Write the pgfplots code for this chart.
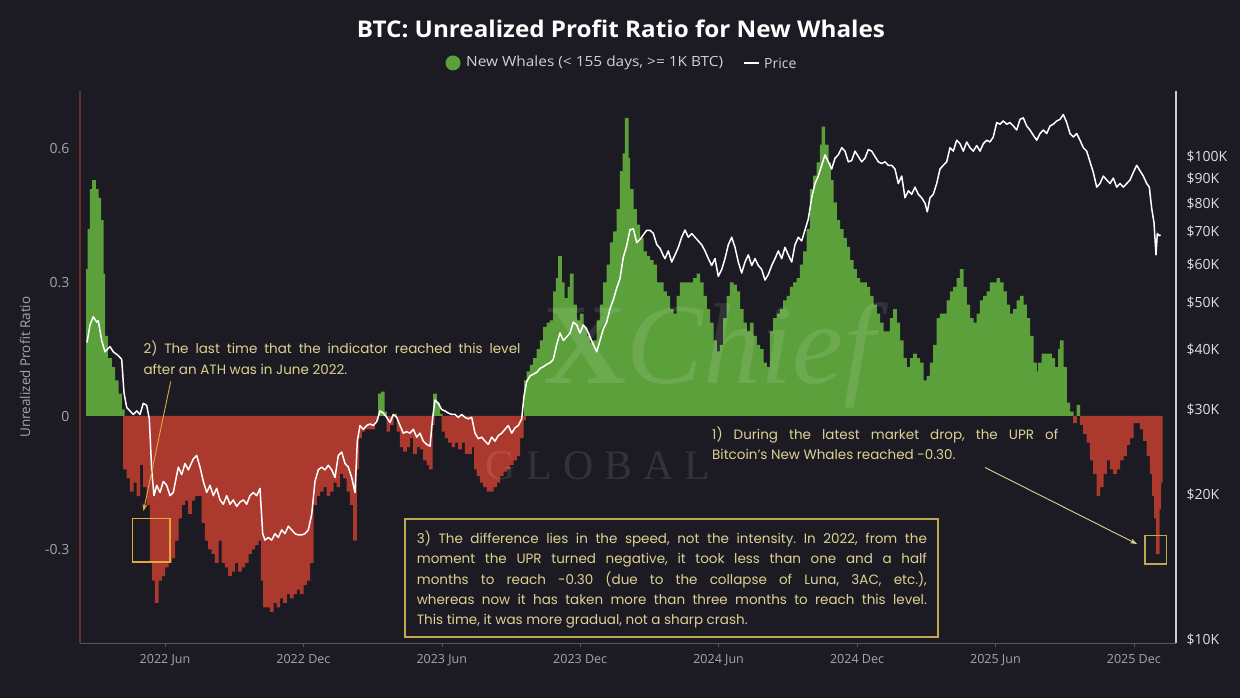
\documentclass[border=0pt]{standalone}
\usepackage{fontspec}
\setmainfont{Open Sans}
\newfontfamily\annfont{Poppins}
\newfontfamily\wmfont{Liberation Serif}
\usepackage{graphicx}
\usepackage{pgfplots}
\pgfplotsset{compat=1.18}
\usepackage{pgfplotstable}
\usetikzlibrary{arrows.meta}
\frenchspacing
\definecolor{bg}{RGB}{28,27,35}
\definecolor{upg}{RGB}{92,160,60}
\definecolor{upr}{RGB}{172,57,45}
\definecolor{spinered}{RGB}{112,42,42}
\definecolor{anntext}{RGB}{220,210,145}
\definecolor{boxgold}{RGB}{192,168,82}
\definecolor{boxorange}{RGB}{226,168,64}
\definecolor{ticklbl}{RGB}{165,165,172}
\definecolor{axgray}{RGB}{85,85,92}
\newcommand\jline[2]{\sbox0{#2}\ifdim\wd0>#1\relax\resizebox{#1}{\height}{#2}\else\makebox[#1][s]{#2}\fi}

\pgfplotstableread{
x v
88 0.33
89.3 0.42
91.7 0.51
94 0.53
96.7 0.51
99.3 0.49
101.7 0.44
103.3 0.32
106 0.18
110 0.13
113.3 0.11
116.7 0.08
120 0.05
122.7 0.015
125 -0.12
128.3 -0.14
131.7 -0.17
135 -0.15
138.3 -0.18
141.7 -0.11
145 -0.16
148.3 -0.20
151.7 -0.33
154 -0.37
156.7 -0.42
160 -0.37
163.3 -0.36
166.7 -0.34
170 -0.33
173.3 -0.32
176.7 -0.28
180 -0.23
183.3 -0.20
186.7 -0.19
190 -0.22
193.3 -0.19
196.7 -0.18
200 -0.18
203.3 -0.24
206.7 -0.28
210 -0.30
213.3 -0.31
216.7 -0.33
220 -0.28
223.3 -0.33
226.7 -0.34
230 -0.36
233.3 -0.35
236.7 -0.33
240 -0.35
243.3 -0.34
246.7 -0.33
250 -0.31
253.3 -0.30
256.7 -0.29
260 -0.28
262.7 -0.37
265 -0.43
268.3 -0.43
271.7 -0.44
275 -0.42
278.3 -0.43
281.7 -0.41
285 -0.42
288.3 -0.40
291.7 -0.41
295 -0.40
298.3 -0.39
301.7 -0.40
305 -0.38
308.3 -0.37
311.7 -0.33
315 -0.20
318.3 -0.18
321.7 -0.17
325 -0.16
328.3 -0.18
331.7 -0.17
335 -0.15
338.3 -0.16
341.7 -0.13
345 -0.14
348.3 -0.17
351.7 -0.20
355 -0.28
357.3 -0.12
360 -0.05
363.3 -0.035
366.7 -0.03
370 -0.03
373.3 -0.03
376.7 -0.01
380 0.05
382.7 0.055
385 0.01
388.3 -0.035
391.7 -0.02
395 0.005
398.3 -0.035
401.7 -0.07
405 -0.08
408.3 -0.07
411.7 -0.05
415 -0.085
418.3 -0.07
421.7 -0.075
425 -0.10
428.3 -0.11
430.7 -0.12
432.7 -0.02
435 0.05
438.3 0.03
440.7 0.005
443.3 -0.035
446.7 -0.05
450 -0.06
453.3 -0.07
456.7 -0.06
460 -0.075
463.3 -0.06
466.7 -0.085
470 -0.085
473.3 -0.07
476 -0.12
478.3 -0.135
481.7 -0.15
485 -0.16
488.3 -0.17
491.7 -0.17
495 -0.16
498.3 -0.15
501.7 -0.135
505 -0.125
508.3 -0.12
511.7 -0.11
515 -0.10
518.3 -0.09
521.7 -0.05
524 -0.01
526 0.08
528.3 0.10
531.7 0.115
535 0.13
538.3 0.15
541.7 0.17
545 0.20
548.3 0.21
551.7 0.215
555 0.28
557.7 0.31
560 0.36
562.7 0.30
566 0.265
569.3 0.29
571.7 0.32
575 0.25
578.3 0.215
581.7 0.23
585 0.20
588.3 0.18
591.7 0.165
595 0.17
598.3 0.215
601.7 0.25
605 0.30
608.3 0.34
611.7 0.39
615 0.415
618.3 0.465
621.7 0.55
624.3 0.59
626.7 0.67
628.3 0.58
631.7 0.51
635 0.465
638.3 0.43
641.7 0.40
645 0.37
648.3 0.36
651.7 0.35
655 0.34
658.3 0.30
661.7 0.30
665 0.28
668.3 0.27
671.7 0.24
675 0.23
678.3 0.27
681.7 0.30
685 0.30
688.3 0.30
691.7 0.30
695 0.31
698.3 0.32
701.7 0.30
705 0.27
708.3 0.24
711.7 0.21
715 0.17
718.3 0.145
721.7 0.16
725 0.22
728.3 0.27
731.7 0.30
735 0.295
738.3 0.28
741.7 0.24
745 0.21
748.3 0.19
751.7 0.21
755 0.18
758.3 0.16
761.7 0.15
765 0.12
768.3 0.11
771.7 0.19
775 0.22
778.3 0.23
781.7 0.24
785 0.26
788.3 0.27
791.7 0.29
795 0.30
798.3 0.31
801.7 0.34
805 0.37
808.3 0.42
811.7 0.51
815 0.54
818.3 0.57
821.7 0.61
823.3 0.65
826.7 0.61
829 0.57
831.7 0.53
835 0.48
838.3 0.44
841.7 0.42
845 0.40
848.3 0.38
851.7 0.35
855 0.33
858.3 0.31
861.7 0.30
865 0.30
868.3 0.29
871.7 0.27
875 0.25
878.3 0.23
881.7 0.21
885 0.19
888.3 0.19
891.7 0.22
895 0.24
898.3 0.21
901.7 0.17
905 0.13
908.3 0.11
911.7 0.13
915 0.14
918.3 0.13
921.7 0.12
925 0.08
926.7 0.04
928.3 0.09
931.7 0.12
935 0.16
938.3 0.22
941.7 0.23
945 0.23
948.3 0.26
951.7 0.28
955 0.29
958.3 0.31
961.7 0.33
965 0.29
968.3 0.25
971.7 0.22
975 0.21
978.3 0.23
981.7 0.26
985 0.27
988.3 0.28
991.7 0.30
995 0.30
998.3 0.31
1001.7 0.30
1005 0.28
1008.3 0.25
1011.7 0.23
1015 0.24
1018.3 0.26
1021.7 0.27
1025 0.25
1028.3 0.22
1031.7 0.18
1035 0.12
1036.7 0.10
1040 0.12
1043.3 0.14
1046.7 0.14
1050 0.14
1053.3 0.13
1056.7 0.11
1060 0.15
1061.7 0.17
1065 0.11
1068.3 0.03
1071.7 0.01
1075 -0.016
1078.3 0.025
1081.7 -0.02
1085 -0.04
1088.3 -0.06
1091.7 -0.10
1095 -0.13
1098.3 -0.18
1101.7 -0.16
1105 -0.13
1108.3 -0.10
1111.7 -0.12
1115 -0.13
1118.3 -0.12
1121.7 -0.10
1125 -0.09
1128.3 -0.065
1131.7 -0.05
1135 -0.016
1138.3 -0.016
1141.7 -0.03
1145 -0.056
1148.3 -0.09
1151.7 -0.13
1154 -0.18
1156 -0.23
1157.7 -0.31
1159.3 -0.21
1160.7 -0.15
}\uprtable

\pgfplotstableread{
x p
87 41.3
90 44.9
93.3 46.7
96.7 45.5
98.3 45.8
101.7 41.7
105 39.5
110 40.5
113.3 39.5
118.3 38.8
121.7 38.1
124 32.5
126.7 30.3
130 29.8
133.3 29.3
136.7 29.8
140 29.3
143.3 30.9
146.7 30.6
149.3 28.7
151.7 22.5
154 19.9
156.7 20.9
160 20.2
163.3 21.3
166.7 20.9
170 19.9
173.3 20.2
178.3 22.8
181.7 22.0
185 23.2
188.3 22.5
193.3 23.7
196.7 24.1
200 22.8
203.3 21.3
206.7 20.2
210 20.9
213.3 19.9
216.7 20.6
220 19.5
223.3 19.1
226.7 19.9
230 19.1
233.3 19.5
236.7 18.9
240 19.3
243.3 19.5
246.7 19.1
250 19.9
253.3 20.2
256.7 19.9
260 20.6
262.7 16.6
265 16.1
268.3 16.3
271.7 16.1
275 16.6
278.3 16.3
281.7 16.9
285 16.6
288.3 17.2
291.7 16.9
295 16.6
298.3 16.5
301.7 16.5
305 16.6
308.3 16.9
311.7 18.2
315 21.3
318.3 22.5
321.7 22.8
325 22.5
328.3 23.0
331.7 22.5
335 21.7
338.3 24.1
341.7 24.5
345 23.2
348.3 22.8
351.7 21.7
355 20.2
357.3 25.8
360 27.8
363.3 27.3
366.7 27.8
370 28.0
373.3 27.8
376.7 28.3
380 29.8
383.3 29.5
386.7 28.9
390 28.2
393.3 29.3
396.7 28.9
400 27.8
403.3 26.8
406.7 27.0
410 26.8
413.3 27.3
416.7 26.3
420 26.8
423.3 25.8
426.7 25.4
430 25.2
432.7 28.9
435 31.4
438.3 30.9
441.7 30.0
445 29.8
448.3 29.5
451.7 29.3
455 29.3
458.3 28.9
461.7 29.3
465 28.9
468.3 28.7
471.7 28.9
475 26.8
478.3 26.1
481.7 26.3
485 25.8
488.3 25.4
491.7 26.3
495 25.8
498.3 26.5
501.7 26.8
505 27.3
508.3 27.8
511.7 26.8
515 27.5
518.3 27.8
521.7 28.7
524 32.0
526.7 34.3
530 35.2
533.3 35.5
536.7 35.8
540 36.5
543.3 36.8
546.7 37.2
550 37.5
553.3 38.1
556.7 40.9
560 43.2
563.3 41.7
566.7 42.4
570 43.2
573.3 45.5
576.7 44.9
580 43.2
583.3 44.9
586.7 44.0
590 42.4
593.3 40.9
596.7 39.5
600 41.7
603.3 44.0
606.7 45.5
610 48.5
613.3 50.6
616.7 53.5
620 56.0
623.3 62.0
626.7 65.5
630 70.7
633.3 71.0
636.7 66.5
640 67.5
643.3 69.0
646.7 70.5
650 70.5
653.3 69.5
656.7 65.9
660 64.7
663.3 62.5
665 61.6
668.3 63.9
671.7 60.6
675 62.7
678.3 65.0
681.7 68.2
685 70.6
688.3 68.2
691.7 69.4
695 68.2
698.3 67.0
701.7 65.8
705 63.9
708.3 61.6
711.7 59.6
715 61.6
718.3 56.6
721.7 58.5
725 61.6
728.3 65.8
731.7 68.2
735 65.0
738.3 60.6
741.7 57.5
745 60.6
748.3 62.7
751.7 59.6
755 61.6
758.3 59.6
761.7 58.5
765 55.6
768.3 57.1
771.7 59.6
775 61.6
778.3 63.9
781.7 61.6
785 65.0
788.3 62.7
791.7 60.6
795 65.8
798.3 68.2
801.7 67.0
805 70.6
808.3 74.4
811.7 82.3
815 88.1
818.3 91.3
821.7 96.1
825 101
828.3 97.7
831.7 94.4
835 99.4
838.3 101
841.7 104.5
845 102.8
848.3 97.7
851.7 98.3
855 102.8
858.3 100.2
861.7 97.7
865 99.4
868.3 103.6
871.7 102.8
875 100.2
878.3 97.7
881.7 96.9
885 97.7
888.3 96.1
891.7 96.1
895 94.4
898.3 88.1
901.7 91.3
905 82.3
908.3 85.1
911.7 83.7
915 86.6
918.3 83.7
921.7 82.3
925 80.2
927.3 77.0
930 82.3
933.3 83.7
936.7 88.1
940 94.4
943.3 96.1
946.7 97.7
950 104.5
953.3 102.8
956.7 108.3
960 106.5
963.3 102.8
966.7 107.4
970 104.5
973.3 102.8
976.7 105.6
980 102.8
983.3 106.5
986.7 108.3
990 107.4
993.3 110.0
996.7 117.8
1000 116.9
1003.3 118.7
1006.7 116.9
1010 117.8
1013.3 115.9
1016.7 113.7
1020 119.6
1023.3 120.5
1026.7 115.9
1030 113.7
1033.3 110.9
1036.7 108.3
1040 111.8
1043.3 113.7
1046.7 111.8
1050 115.9
1053.3 116.9
1056.7 118.7
1060 119.6
1063.3 122.4
1066.7 117.8
1070 111.8
1073.3 110.0
1076.7 111.8
1080 108.3
1083.3 104.5
1086.7 102.8
1090 97.7
1093.3 92.9
1096.7 86.6
1100 88.1
1103.3 91.3
1106.7 89.6
1110 88.1
1113.3 90.4
1116.7 86.6
1120 88.1
1123.3 86.6
1126.7 88.1
1130 89.6
1133.3 92.9
1136.7 96.1
1140 93.6
1143.3 91.3
1146.7 88.1
1149.3 86.6
1151.7 78.2
1154 73.1
1156 62.7
1157.3 69.4
1159.3 68.7
1160.5 69.0
}\pricetable

\begin{document}
\begin{tikzpicture}[x=1pt,y=1pt]
\fill[bg] (0,0) rectangle (1240,698);

\begin{axis}[
  at={(80pt,55pt)}, anchor=south west, scale only axis,
  width=1096pt, height=553pt,
  xmin=80, xmax=1176, ymin=-0.5101, ymax=0.7326,
  axis line style={draw=none},
  xtick={165,303.4,441.8,580.2,718.6,857,995.4,1133.8},
  xticklabels={2022 Jun,2022 Dec,2023 Jun,2023 Dec,2024 Jun,2024 Dec,2025 Jun,2025 Dec},
  xtick pos=bottom, tick align=outside, major tick length=4pt,
  xtick style={draw=axgray, line width=0.6pt},
  ytick={-0.3,0,0.3,0.6}, yticklabels={-0.3,0,0.3,0.6},
  ytick pos=left, ytick style={draw=none},
  xticklabel style={font=\fontsize{12.5}{14}\selectfont, text=ticklbl, yshift=-4pt},
  yticklabel style={font=\fontsize{14}{16}\selectfont, text=ticklbl, xshift=-3pt},
]
\addplot[ybar, bar shift=0pt, bar width=3.6, fill=upg, draw=none,
  restrict y to domain=0:1] table[x=x,y=v] {\uprtable};
\addplot[ybar, bar shift=0pt, bar width=3.6, fill=upr, draw=none,
  restrict y to domain=-1:0] table[x=x,y=v] {\uprtable};
\end{axis}

% watermark (kept clear of the annotation texts)
\node[opacity=0.10, text=white, font=\wmfont\fontsize{115}{115}\selectfont] at (716,698-355) {\textbf{X}\textit{Chief}};
\node[opacity=0.10, text=white, font=\wmfont\fontsize{42}{42}\selectfont] at (598,698-466) {G\hspace{11pt}L\hspace{11pt}O\hspace{11pt}B\hspace{11pt}A\hspace{11pt}L};

\begin{axis}[
  at={(80pt,55pt)}, anchor=south west, scale only axis,
  width=1096pt, height=553pt,
  xmin=80, xmax=1176, ymode=log, ymin=9.858, ymax=137.6,
  axis line style={draw=none}, xtick=\empty,
  ytick={10,20,30,40,50,60,70,80,90,100},
  yticklabels={\$10K,\$20K,\$30K,\$40K,\$50K,\$60K,\$70K,\$80K,\$90K,\$100K},
  ytick pos=right, yticklabel pos=right, tick style={draw=none},
  major tick length=0pt, minor tick length=0pt,
  yticklabel style={font=\fontsize{14}{16}\selectfont, text=white!88!black, xshift=7pt},
]
\addplot[white, line width=1.5pt, line join=round, no marks] table[x=x,y=p] {\pricetable};
\end{axis}

% spines
\draw[axgray, line width=0.7pt] (80,55) -- (1176,55);
\draw[spinered, line width=1.4pt] (80,55) -- (80,607);
\draw[white!80!black, line width=1.1pt] (1176,55) -- (1176,607);

% title and legend
\node[text=white, font=\bfseries\fontsize{23}{26}\selectfont] at (621,698-29) {\resizebox{528pt}{\height}{BTC: Unrealized Profit Ratio for New Whales}};
\fill[upg] (453,698-63) circle (7.5pt);
\node[anchor=west, inner sep=0, text=white!82!black, font=\fontsize{14}{16}\selectfont] at (466,698-63) {\resizebox{257pt}{\height}{New Whales (< 155 days, >= 1K BTC)}};
\draw[white, line width=1.5pt] (744,698-63) -- (759,698-63);
\node[anchor=west, inner sep=0, text=white!82!black, font=\fontsize{14}{16}\selectfont] at (764,698-63) {Price};

% y label
\node[rotate=90, text=ticklbl, font=\fontsize{13.5}{15}\selectfont] at (25,698-367) {Unrealized Profit Ratio};

% annotation 2
\node[anchor=mid west, inner sep=0, text=anntext, font=\annfont\fontsize{13.5}{15}\selectfont] at (143.3,698-351) {\jline{377pt}{2) The last time that the indicator reached this level}};
\node[anchor=mid west, inner sep=0, text=anntext, font=\annfont\fontsize{13.5}{15}\selectfont] at (143.3,698-371.5) {after an ATH was in June 2022.};
\draw[boxorange, line width=0.9pt, -{Stealth[length=7pt,width=5pt]}] (170.7,698-381.5) -- (143.5,698-511);
\draw[boxorange, line width=1.3pt] (132.7,698-518.5) rectangle (170,698-562);

% annotation 1
\node[anchor=mid west, inner sep=0, text=anntext, font=\annfont\fontsize{13.5}{15}\selectfont] at (712,698-437) {\jline{346pt}{1) During the latest market drop, the UPR of}};
\node[anchor=mid west, inner sep=0, text=anntext, font=\annfont\fontsize{13.5}{15}\selectfont] at (712,698-457) {Bitcoin’s New Whales reached -0.30.};
\draw[anntext, line width=0.9pt, -{Stealth[length=7pt,width=5pt]}] (985,698-467.5) -- (1137,698-544);
\draw[boxgold, line width=1.3pt] (1145,698-535.5) rectangle (1166.7,698-564);

% annotation 3
\draw[boxgold, line width=1.3pt] (405,698-519) rectangle (938,698-637);
\begin{scope}[every node/.style={anchor=mid west, inner sep=0, text=anntext, font=\annfont\fontsize{13.5}{15}\selectfont}]
\node at (416.7,698-540.7) {\jline{510pt}{3) The difference lies in the speed, not the intensity. In 2022, from the}};
\node at (416.7,698-561) {\jline{510pt}{moment the UPR turned negative, it took less than one and a half}};
\node at (416.7,698-581.5) {\jline{510pt}{months to reach -0.30 (due to the collapse of Luna, 3AC, etc.),}};
\node at (416.7,698-602.3) {\jline{510pt}{whereas now it has taken more than three months to reach this level.}};
\node at (416.7,698-622.3) {This time, it was more gradual, not a sharp crash.};
\end{scope}

\pgfresetboundingbox
\path[use as bounding box] (0,0) rectangle (1240,698);
\end{tikzpicture}
\end{document}
